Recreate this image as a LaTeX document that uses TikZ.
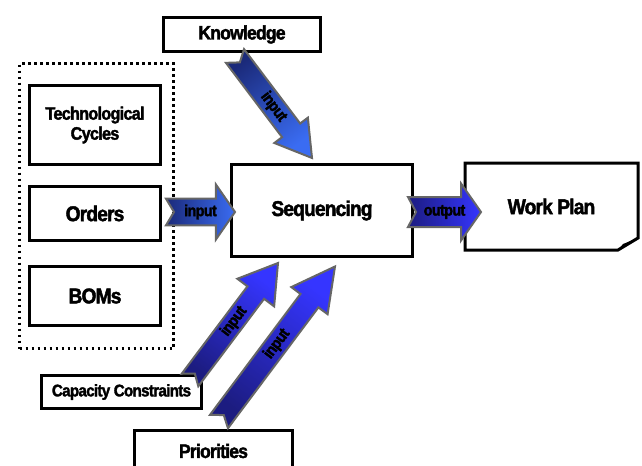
\documentclass[tikz,border=0pt]{standalone}
\usepackage{fontspec}
\setmainfont{Liberation Sans}[FakeStretch=0.9, LetterSpace=-4, FakeBold=2]
\usetikzlibrary{calc}

\definecolor{navyk}{HTML}{1B2A7A}
\definecolor{bluek}{HTML}{3A6CF2}
\definecolor{navyc}{HTML}{1C1C80}
\definecolor{bluec}{HTML}{3535FF}
\definecolor{rimgray}{HTML}{666666}

% #1 colours, #2 tail, #3 tip, #4 half shaft, #5 half head, #6 head length, #7 label
\newcommand{\blockarrow}[7]{%
    \path let \p1=($(#3)-(#2)$) in \pgfextra{\pgfmathsetmacro{\arrang}{atan2(\y1,\x1)-90}\global\let\arrang\arrang};
    \coordinate (hb) at ($(#3)!#6!(#2)$);
    \coordinate (nt) at ($(#2)!6pt!(#3)$);
    \shadedraw[arrowrim, #1, shading angle=\arrang]
        ($(#2)!#4!90:(#3)$) -- ($(hb)!#4!90:(#3)$) -- ($(hb)!#5!90:(#3)$) -- (#3)
        -- ($(hb)!#5!-90:(#3)$) -- ($(hb)!#4!-90:(#3)$) -- ($(#2)!#4!-90:(#3)$) -- (nt) -- cycle;
    \path (#2) -- (#3) node[midway, sloped, arrtext] {#7};
}

\begin{document}
\begin{tikzpicture}[x=0.75pt, y=-0.75pt]
    \tikzset{
        box/.style={draw, fill=white, line width=2.25pt, inner sep=0pt, align=center,
            font=\bfseries\fontsize{16}{18}\selectfont},
        midtext/.style={font=\bfseries\fontsize{14.6}{16}\selectfont},
        dotbox/.style={draw, line width=2.25pt, dash pattern=on 2.2pt off 2.3pt},
        arrowrim/.style={draw=rimgray, line width=1.5pt, line join=miter},
        arrtext/.style={font=\bfseries\fontsize{12}{13}\selectfont, inner sep=0pt},
        kshade/.style={bottom color=navyk, top color=bluek},
        cshade/.style={bottom color=navyc, top color=bluec}
    }
    \useasboundingbox (0,0) rectangle (642,465);

    % inputs kept together
    \node[dotbox, minimum width=115.5pt, minimum height=213.75pt] (group) at (96.5,206) {};
    \node[box, minimum width=98.25pt, minimum height=59.25pt,
          font=\bfseries\fontsize{13.5}{15}\selectfont] (tech) at (95,125) {Technological\\Cycles};
    \node[box, minimum width=98.25pt, minimum height=40.5pt] (orders) at (95,213.5) {Orders};
    \node[box, minimum width=98.25pt, minimum height=44.25pt] (boms) at (95,296) {BOMs};

    \node[box, midtext, minimum width=117.75pt, minimum height=25.5pt] (know) at (242,34.5) {Knowledge};
    \node[box, minimum width=135.75pt, minimum height=69pt] (seq) at (322,210.5) {Sequencing};
    \node[box, font=\bfseries\fontsize{12.6}{14}\selectfont,
          minimum width=120pt, minimum height=24.75pt] (cap) at (121.5,392) {Capacity Constraints};
    \node[box, midtext, minimum width=118.5pt, minimum height=30.75pt] (prio) at (213.5,451) {Priorities};

    % work plan, a sheet with a curled corner
    \node[box, draw=none, minimum width=127.5pt, minimum height=63pt] (plan) at (551.5,206.5) {Work Plan};
    \draw[line width=2.25pt, line join=miter]
        (plan.north west) -- (plan.north east) -- ($(plan.south east)+(0,-12)$)
        -- ($(plan.south east)+(-20,0)$) -- (plan.south west) -- cycle;
    \fill ($(plan.south east)+(0,-12)$) -- ($(plan.south east)+(-15,-6)$) -- ($(plan.south east)+(-20,0)$) -- cycle;

    \coordinate (k1) at ($(know.south)+(-7,3)$);
    \coordinate (k2) at ($(seq.north)+(-10,-5)$);
    \coordinate (i1) at ($(orders.east)+(4,-1.5)$);
    \coordinate (i2) at ($(seq.west)+(5,1.5)$);
    \coordinate (o1) at ($(seq.east)+(-6,1.5)$);
    \coordinate (o2) at ($(plan.west)+(16,5.5)$);
    \coordinate (c1) at ($(cap.north east)+(-13,6)$);
    \coordinate (c2) at ($(seq.south)+(-44,5)$);
    \coordinate (p1) at ($(prio.north)+(5.5,-7.5)$);
    \coordinate (p2) at ($(seq.south)+(13,8.5)$);

    \blockarrow{kshade}{k1}{k2}{8.5pt}{15.75pt}{26pt}{input}
    \blockarrow{kshade}{i1}{i2}{10pt}{20.6pt}{14.3pt}{input}
    \blockarrow{cshade}{o1}{o2}{11.25pt}{21.4pt}{15pt}{output}
    \blockarrow{cshade}{c1}{c2}{7.8pt}{17.25pt}{27.75pt}{input}
    \blockarrow{cshade}{p1}{p2}{8.4pt}{17pt}{32pt}{input}

\end{tikzpicture}
\end{document}
